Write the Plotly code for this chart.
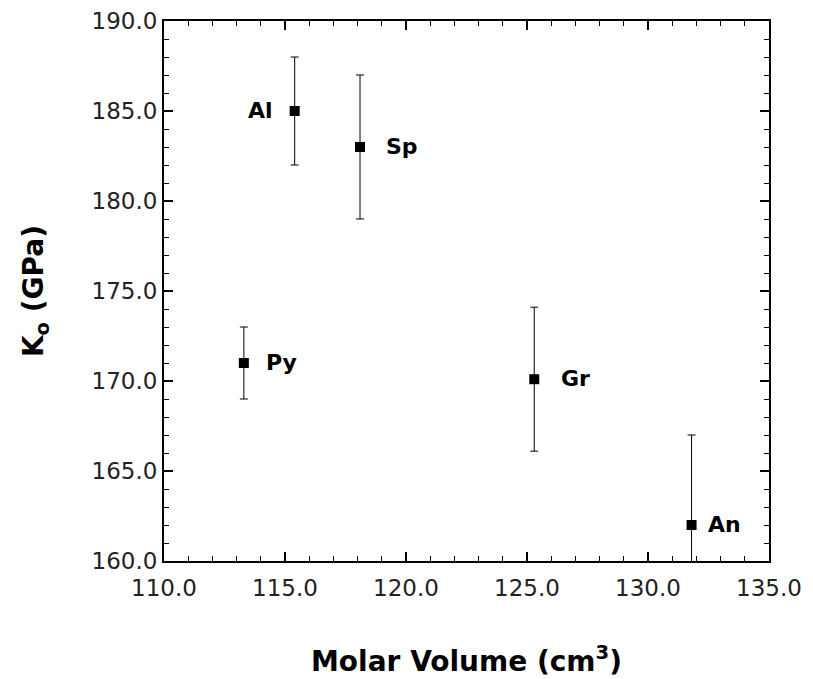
import plotly.graph_objects as go

minerals = ["Al", "Sp", "Py", "Gr", "An"]
molar_volume = [115.4, 118.1, 113.3, 125.3, 131.8]
k0 = [185.0, 183.0, 171.0, 170.1, 162.0]
k0_err = [3.0, 4.0, 2.0, 4.0, 5.0]
label_side = ["left", "right", "right", "right", "right"]
label_shift = [-20, 24, 20, 25, 14]

x_ticks = [110, 115, 120, 125, 130, 135]
y_ticks = [160, 165, 170, 175, 180, 185, 190]

fig = go.Figure()
fig.add_trace(go.Scatter(
    x=molar_volume, y=k0, mode="markers",
    marker=dict(symbol="square", size=10, color="black"),
    error_y=dict(type="data", array=k0_err, visible=True,
                 color="black", thickness=1, width=4),
    showlegend=False, cliponaxis=True,
))

for m, xv, yv, side, sh in zip(minerals, molar_volume, k0, label_side, label_shift):
    fig.add_annotation(
        x=xv, y=yv, text=f"<b>{m}</b>", showarrow=False,
        xanchor="right" if side == "left" else "left",
        yanchor="middle", xshift=sh, yshift=1,
        font=dict(family="DejaVu Sans", size=22, color="black"),
    )

axis_common = dict(
    showline=True, linecolor="black", linewidth=2, mirror="ticks",
    ticks="inside", ticklen=9, tickwidth=1.5, tickcolor="black",
    showgrid=False, zeroline=False, automargin=False,
    tickfont=dict(family="DejaVu Sans", size=23, color="#222222"),
    minor=dict(ticks="inside", ticklen=5, tickwidth=1, tickcolor="black", dtick=1, showgrid=False),
)

fig.update_xaxes(
    range=[110, 135], tickvals=x_ticks,
    ticktext=[f"{v:.1f}" for v in x_ticks],
    ticklabelstandoff=5,
    title=dict(text="<b>Molar Volume (cm<sup>3</sup>)</b>",
               font=dict(family="DejaVu Sans", size=28, color="black"), standoff=52),
    **axis_common,
)
fig.update_yaxes(
    range=[160, 190], tickvals=y_ticks,
    ticktext=[f"{v:.1f}" for v in y_ticks],
    title=dict(text="<b>K<sub>o</sub> (GPa)</b>",
               font=dict(family="DejaVu Sans", size=28, color="black"), standoff=40),
    **axis_common,
)

fig.update_layout(
    width=806, height=672,
    margin=dict(l=156, r=45, t=13, b=119),
    plot_bgcolor="white", paper_bgcolor="white",
)

fig.write_html("out.html")
